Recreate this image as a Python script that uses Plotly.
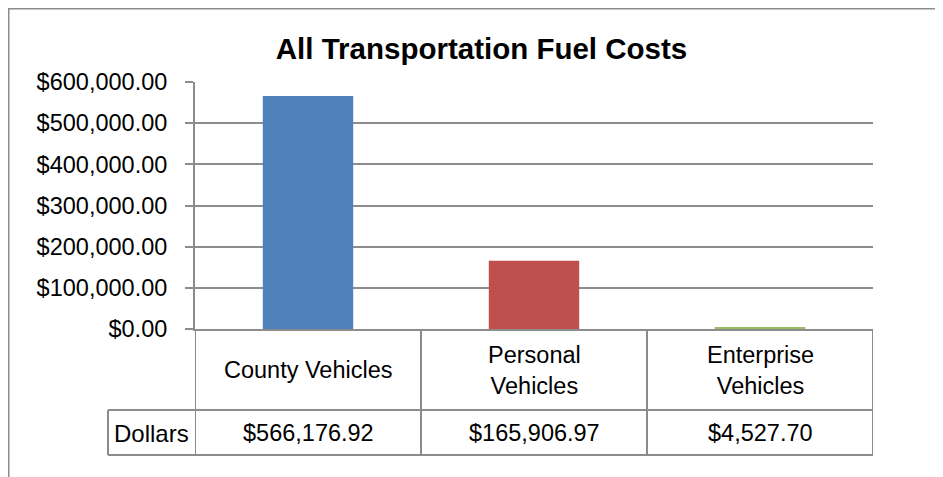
import plotly.graph_objects as go

categories = ["County Vehicles", "Personal Vehicles", "Enterprise Vehicles"]
header_labels = ["County Vehicles", "Personal<br>Vehicles", "Enterprise<br>Vehicles"]
values = [566176.92, 165906.97, 4527.70]
colors = ["#4F81BD", "#C0504D", "#9BBB59"]
series_name = "Dollars"
title = "All Transportation Fuel Costs"
y_ticks = [0, 100000, 200000, 300000, 400000, 500000, 600000]

OFF = 8  # page body margin
W, H = 943 - OFF, 477 - OFF
L, R, T, B = 195 - OFF, 873 - OFF, 82 - OFF, 329 - OFF
pw, ph = R - L, B - T

def px(xpix):
    return (xpix - OFF - L) / pw

def py(ypix):
    return (B - (ypix - OFF)) / ph

FONT = "Liberation Sans, Arial, sans-serif"
LINE = "#8C8C8C"

fig = go.Figure()
fig.add_trace(go.Bar(
    x=list(range(len(categories))),
    y=values,
    marker=dict(color=colors, line=dict(width=0)),
    name=series_name,
    hovertext=categories,
))

shapes = []
for xb in [-0.5, 0.5, 1.5, 2.5]:
    shapes.append(dict(type="line", xref="x", yref="paper", x0=xb, x1=xb,
                       y0=0, y1=py(455), line=dict(color=LINE, width=2)))
shapes.append(dict(type="line", xref="paper", yref="paper", x0=px(108), x1=px(108),
                   y0=py(410), y1=py(455), line=dict(color=LINE, width=2)))
shapes.append(dict(type="line", xref="paper", yref="paper", x0=px(108), x1=1,
                   y0=py(410), y1=py(410), line=dict(color=LINE, width=2)))
shapes.append(dict(type="line", xref="paper", yref="paper", x0=px(108), x1=1,
                   y0=py(455), y1=py(455), line=dict(color=LINE, width=2)))
# outer chart border (left and top)
shapes.append(dict(type="line", xref="paper", yref="paper", x0=px(8), x1=px(8),
                   y0=py(7), y1=py(490), line=dict(color=LINE, width=3)))
shapes.append(dict(type="line", xref="paper", yref="paper", x0=px(7), x1=px(960),
                   y0=py(8), y1=py(8), line=dict(color=LINE, width=3)))

annotations = []
for i, lab in enumerate(header_labels):
    annotations.append(dict(xref="x", yref="paper", x=i, y=py(370), text=lab,
                            showarrow=False, xanchor="center", yanchor="middle",
                            font=dict(family=FONT, size=23.5, color="black")))
    annotations.append(dict(xref="x", yref="paper", x=i, y=py(433),
                            text=f"${values[i]:,.2f}", showarrow=False,
                            xanchor="center", yanchor="middle",
                            font=dict(family=FONT, size=23.5, color="black")))
annotations.append(dict(xref="paper", yref="paper", x=px(108) / 2, y=py(433),
                        text=series_name, showarrow=False, xanchor="center",
                        yanchor="middle", font=dict(family=FONT, size=24, color="black")))

fig.update_layout(
    width=W, height=H,
    margin=dict(l=L, r=W - R, t=T, b=H - B, pad=0),
    paper_bgcolor="white", plot_bgcolor="white",
    showlegend=False,
    bargap=0.6,
    title=dict(text=f"<b>{title}</b>", xref="container", yref="container",
               x=(481.5 - OFF) / W, y=1 - (49 - OFF) / H, xanchor="center", yanchor="middle",
               font=dict(family=FONT, size=29.5, color="black")),
    font=dict(family=FONT, size=23.5, color="black"),
    shapes=shapes,
    annotations=annotations,
)
fig.update_xaxes(range=[-0.5, 2.5], showticklabels=False, showgrid=False,
                 zeroline=False, showline=True, linecolor=LINE, linewidth=2,
                 ticks="", fixedrange=True)
fig.update_yaxes(range=[0, 600000], tickvals=y_ticks, tickformat="$,.2f",
                 showgrid=True, gridcolor=LINE, gridwidth=2, zeroline=False,
                 showline=True, linecolor=LINE, linewidth=2,
                 ticks="outside", ticklen=8, tickcolor=LINE, tickwidth=2,
                 ticklabelstandoff=13,
                 tickfont=dict(family=FONT, size=23.5, color="black"))

fig.write_html("out.html")
